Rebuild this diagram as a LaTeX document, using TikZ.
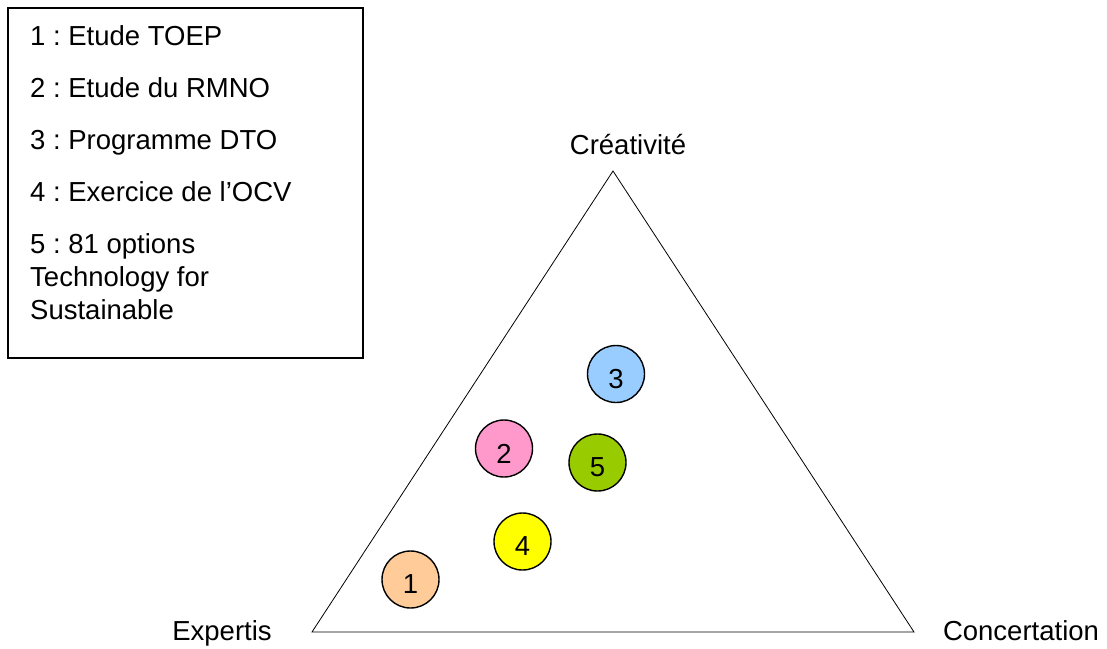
\documentclass[tikz,border=0pt]{standalone}
\usepackage{fontspec}
\setmainfont{Liberation Sans}
\frenchspacing
\begin{document}
\begin{tikzpicture}[x=1pt,y=-1pt,
  every node/.style={font=\fontsize{27.5}{33}\selectfont, inner sep=0pt},
  bubble/.style={circle, draw=black, line width=1.4pt, minimum size=57pt},
  num/.style={yshift=-5pt},
  legendline/.style={anchor=base west},
  corner/.style={anchor=base}]
\useasboundingbox (0,0) rectangle (1107,648);

% legend frame and entries
\draw[line width=1.2pt] (8,8) rectangle (363,358);
\node[legendline] (l1) at (30,45) {1 : Etude TOEP};
\node[legendline] (l2) at (30,97) {2 : Etude du RMNO};
\node[legendline] (l3) at (30,149) {3 : Programme DTO};
\node[legendline] (l4) at (30,201) {4 : Exercice de l’OCV};
\node[legendline] (l5) at (30,253) {5 : 81 options};
\node[legendline] (l6) at (30,286) {Technology for};
\node[legendline] (l7) at (30,319) {Sustainable};

% triangle of the three poles
\coordinate (top) at (613,171);
\coordinate (left) at (312,632);
\coordinate (right) at (914,632);
\draw[line width=0.8pt] (top) -- (left) -- (right) -- cycle;
\node[corner] (crea) at (628,154) {Créativité};
\node[corner] (expe) at (222,640) {Expertis};
\node[corner] (conc) at (1021,640) {Concertation};

% positioned studies
\node[bubble, fill={rgb,255:red,255;green,204;blue,153}] (c1) at (410.5,579.5) {};
\node[bubble, fill={rgb,255:red,255;green,153;blue,204}] (c2) at (504,448.5) {};
\node[bubble, fill={rgb,255:red,153;green,204;blue,255}] (c3) at (616,374) {};
\node[bubble, fill={rgb,255:red,255;green,255;blue,0}] (c4) at (522.5,541.5) {};
\node[bubble, fill={rgb,255:red,153;green,204;blue,0}] (c5) at (597.5,462.5) {};
\node[num] (n1) at (c1) {1};
\node[num] (n2) at (c2) {2};
\node[num] (n3) at (c3) {3};
\node[num] (n4) at (c4) {4};
\node[num] (n5) at (c5) {5};
\end{tikzpicture}
\end{document}
